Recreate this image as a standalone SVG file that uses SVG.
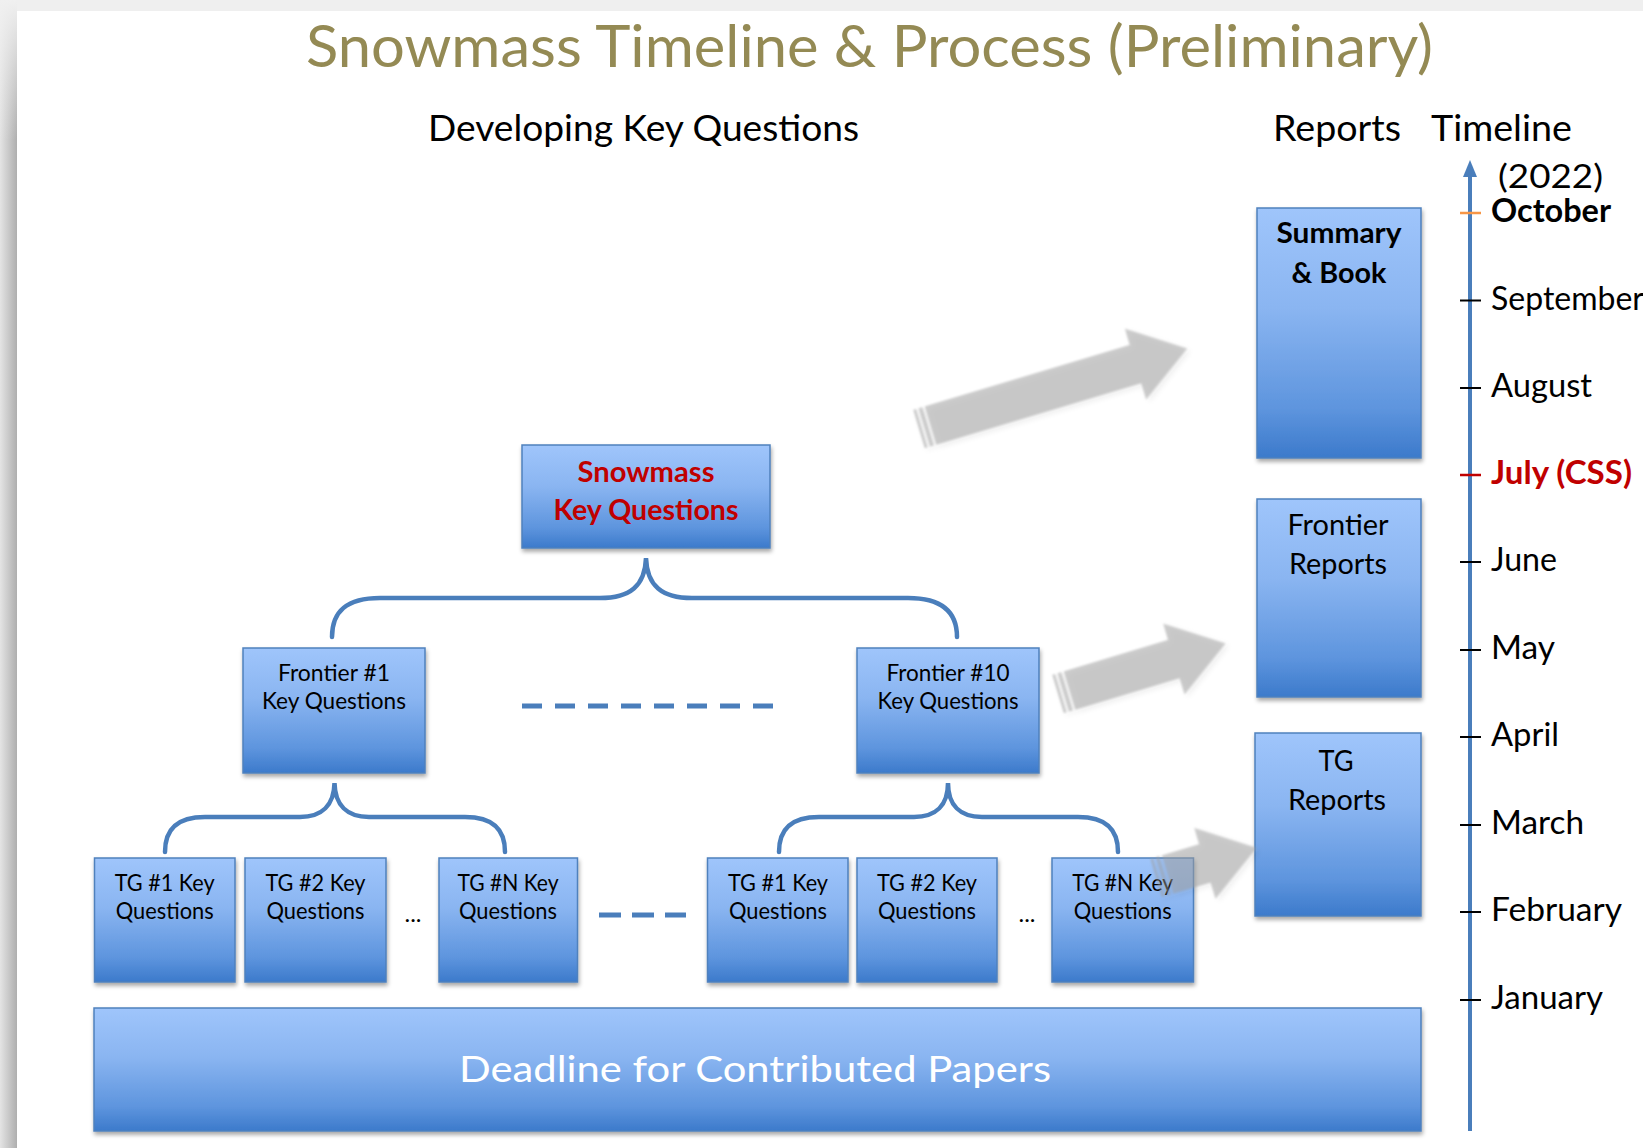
<svg xmlns="http://www.w3.org/2000/svg" width="1643" height="1148" viewBox="0 0 1643 1148">
<defs>
<style>
text{font-family:Lato,"Open Sans","Liberation Sans",sans-serif;}
.box{fill:url(#boxg);stroke:#4f81bd;stroke-width:1.5;filter:url(#sh);}
.bt{fill:#000;font-size:22.5px;text-anchor:middle;}
.rt{fill:#000;font-size:28px;text-anchor:middle;}
.mon{fill:#000;font-size:32px;}
.brace{fill:none;stroke:#4a7ebb;stroke-width:4.5;stroke-linecap:round;}
.dash{fill:none;stroke:#4a7ebb;stroke-width:5;}
.tick{stroke:#000;stroke-width:2;}
.barr{fill:#a0a0a0;fill-opacity:0.52;filter:url(#ash);}
</style>
<linearGradient id="boxg" x1="0" y1="0" x2="0" y2="1">
<stop offset="0" stop-color="#9fc5fb"/>
<stop offset="0.4" stop-color="#8ab5f1"/>
<stop offset="0.8" stop-color="#5e95de"/>
<stop offset="1" stop-color="#3c7acb"/>
</linearGradient>
<linearGradient id="leftsh" x1="0" y1="0" x2="1" y2="0">
<stop offset="0" stop-color="#e4e4e4"/>
<stop offset="1" stop-color="#aeaeae"/>
</linearGradient>
<linearGradient id="topfade" x1="0" y1="0" x2="0" y2="1">
<stop offset="0" stop-color="#f0f0f0" stop-opacity="1"/>
<stop offset="1" stop-color="#f0f0f0" stop-opacity="0"/>
</linearGradient>
<filter id="sh" x="-10%" y="-10%" width="130%" height="130%">
<feDropShadow dx="1" dy="3" stdDeviation="2" flood-color="#000" flood-opacity="0.35"/>
</filter>
<filter id="ash" x="-20%" y="-40%" width="150%" height="190%">
<feGaussianBlur in="SourceAlpha" stdDeviation="3" result="b"/>
<feOffset in="b" dx="2" dy="3" result="o"/>
<feComponentTransfer in="o" result="s"><feFuncA type="linear" slope="0.15"/></feComponentTransfer>
<feGaussianBlur in="SourceGraphic" stdDeviation="0.8" result="g"/>
<feMerge><feMergeNode in="s"/><feMergeNode in="g"/></feMerge>
</filter>
</defs>

<!-- page background -->
<rect x="0" y="0" width="1643" height="1148" fill="#efefef"/>
<rect x="0" y="0" width="17" height="1148" fill="url(#leftsh)"/>
<rect x="0" y="0" width="17" height="140" fill="url(#topfade)"/>
<rect x="17" y="11" width="1626" height="1137" fill="#ffffff"/>

<!-- headers -->
<g id="headers">
<text x="869.5" y="67" font-size="58" fill="#948a54" text-anchor="middle" textLength="1127" lengthAdjust="spacingAndGlyphs">Snowmass Timeline &amp; Process (Preliminary)</text>
<text x="643.5" y="141" font-size="36" fill="#000" text-anchor="middle" textLength="431" lengthAdjust="spacingAndGlyphs">Developing Key Questions</text>
<text x="1273" y="141" font-size="36" fill="#000" textLength="128" lengthAdjust="spacingAndGlyphs">Reports</text>
<text x="1431" y="141" font-size="36" fill="#000" textLength="141" lengthAdjust="spacingAndGlyphs">Timeline</text>
</g>

<!-- nodes -->
<g id="snowmass-kq">
<rect class="box" x="522" y="445" width="248" height="103"/>
<text class="rt" x="646" y="482" font-weight="bold" style="fill:#c00000" textLength="137" lengthAdjust="spacingAndGlyphs">Snowmass</text>
<text class="rt" x="646" y="520" font-weight="bold" style="fill:#c00000" textLength="185" lengthAdjust="spacingAndGlyphs">Key Questions</text>
</g>

<g id="frontier1">
<rect class="box" x="243" y="648" width="182" height="125"/>
<text class="bt" x="334" y="681" textLength="112" lengthAdjust="spacingAndGlyphs">Frontier #1</text>
<text class="bt" x="334" y="709" textLength="144" lengthAdjust="spacingAndGlyphs">Key Questions</text>
</g>

<g id="frontier10">
<rect class="box" x="857" y="648" width="182" height="125"/>
<text class="bt" x="948" y="681" textLength="123" lengthAdjust="spacingAndGlyphs">Frontier #10</text>
<text class="bt" x="948" y="709" textLength="141" lengthAdjust="spacingAndGlyphs">Key Questions</text>
</g>

<g id="tg1-left">
<rect class="box" x="94.5" y="858" width="140.5" height="124"/>
<text class="bt" x="164.7" y="891" textLength="100" lengthAdjust="spacingAndGlyphs">TG #1 Key</text>
<text class="bt" x="164.7" y="919" textLength="98" lengthAdjust="spacingAndGlyphs">Questions</text>
</g>
<g id="tg2-left">
<rect class="box" x="245" y="858" width="141" height="124"/>
<text class="bt" x="315.5" y="891" textLength="100" lengthAdjust="spacingAndGlyphs">TG #2 Key</text>
<text class="bt" x="315.5" y="919" textLength="98" lengthAdjust="spacingAndGlyphs">Questions</text>
</g>
<g id="dots-left">
<text class="bt" x="413" y="922" textLength="17" lengthAdjust="spacingAndGlyphs">...</text>
</g>
<g id="tgN-left">
<rect class="box" x="439" y="858" width="138.5" height="124"/>
<text class="bt" x="508" y="891" textLength="101" lengthAdjust="spacingAndGlyphs">TG #N Key</text>
<text class="bt" x="508" y="919" textLength="98" lengthAdjust="spacingAndGlyphs">Questions</text>
</g>

<g id="tg1-right">
<rect class="box" x="707.5" y="858" width="140.5" height="124"/>
<text class="bt" x="778" y="891" textLength="100" lengthAdjust="spacingAndGlyphs">TG #1 Key</text>
<text class="bt" x="778" y="919" textLength="98" lengthAdjust="spacingAndGlyphs">Questions</text>
</g>
<g id="tg2-right">
<rect class="box" x="857" y="858" width="140" height="124"/>
<text class="bt" x="927" y="891" textLength="100" lengthAdjust="spacingAndGlyphs">TG #2 Key</text>
<text class="bt" x="927" y="919" textLength="98" lengthAdjust="spacingAndGlyphs">Questions</text>
</g>
<g id="dots-right">
<text class="bt" x="1027" y="922" textLength="17" lengthAdjust="spacingAndGlyphs">...</text>
</g>
<g id="tgN-right">
<rect class="box" x="1052" y="858" width="141.5" height="124"/>
<text class="bt" x="1122.7" y="891" textLength="101" lengthAdjust="spacingAndGlyphs">TG #N Key</text>
<text class="bt" x="1122.7" y="919" textLength="98" lengthAdjust="spacingAndGlyphs">Questions</text>
</g>

<g id="summary-book">
<rect class="box" x="1257" y="208" width="164" height="250"/>
<text class="rt" x="1339" y="243" font-weight="bold" textLength="125" lengthAdjust="spacingAndGlyphs">Summary</text>
<text class="rt" x="1339" y="283" font-weight="bold" textLength="95" lengthAdjust="spacingAndGlyphs">&amp; Book</text>
</g>

<g id="frontier-reports">
<rect class="box" x="1257" y="499" width="164" height="198"/>
<text class="rt" x="1338" y="535" textLength="101" lengthAdjust="spacingAndGlyphs">Frontier</text>
<text class="rt" x="1338" y="574" textLength="98" lengthAdjust="spacingAndGlyphs">Reports</text>
</g>

<g id="tg-reports">
<rect class="box" x="1255" y="733" width="166" height="183"/>
<text class="rt" x="1336" y="771" textLength="35" lengthAdjust="spacingAndGlyphs">TG</text>
<text class="rt" x="1337" y="810" textLength="98" lengthAdjust="spacingAndGlyphs">Reports</text>
</g>

<g id="deadline">
<rect class="box" x="94" y="1008" width="1327" height="123"/>
<text x="755" y="1082" font-size="37" fill="#ffffff" text-anchor="middle" textLength="592" lengthAdjust="spacingAndGlyphs">Deadline for Contributed Papers</text>
</g>

<g id="timeline">
<line x1="1470" y1="174" x2="1470" y2="1131" stroke="#4a7ebb" stroke-width="4"/>
<polygon points="1470,160 1463,177 1477,177" fill="#4a7ebb"/>
<line x1="1460" y1="213" x2="1481" y2="213" stroke="#f79646" stroke-width="2.5"/>
<line class="tick" x1="1460" y1="300.5" x2="1481" y2="300.5"/>
<line class="tick" x1="1460" y1="388" x2="1481" y2="388"/>
<line x1="1460" y1="475" x2="1481" y2="475" stroke="#c00000" stroke-width="2.5"/>
<line class="tick" x1="1460" y1="562" x2="1481" y2="562"/>
<line class="tick" x1="1460" y1="650" x2="1481" y2="650"/>
<line class="tick" x1="1460" y1="737" x2="1481" y2="737"/>
<line class="tick" x1="1460" y1="825" x2="1481" y2="825"/>
<line class="tick" x1="1460" y1="912" x2="1481" y2="912"/>
<line class="tick" x1="1460" y1="1000" x2="1481" y2="1000"/>
<text class="mon" x="1498" y="188" font-size="31" textLength="105" lengthAdjust="spacingAndGlyphs">(2022)</text>
<text class="mon" x="1491" y="222" font-weight="bold" textLength="120" lengthAdjust="spacingAndGlyphs">October</text>
<text class="mon" x="1491" y="310">September</text>
<text class="mon" x="1491" y="397" textLength="101" lengthAdjust="spacingAndGlyphs">August</text>
<text class="mon" x="1491" y="484" font-weight="bold" style="fill:#c00000" textLength="141" lengthAdjust="spacingAndGlyphs">July (CSS)</text>
<text class="mon" x="1491" y="571" textLength="66" lengthAdjust="spacingAndGlyphs">June</text>
<text class="mon" x="1491" y="659" textLength="64" lengthAdjust="spacingAndGlyphs">May</text>
<text class="mon" x="1491" y="746" textLength="68" lengthAdjust="spacingAndGlyphs">April</text>
<text class="mon" x="1491" y="834" textLength="93" lengthAdjust="spacingAndGlyphs">March</text>
<text class="mon" x="1491" y="921" textLength="131" lengthAdjust="spacingAndGlyphs">February</text>
<text class="mon" x="1491" y="1009" textLength="112" lengthAdjust="spacingAndGlyphs">January</text>
</g>

<!-- connectors -->
<g id="connectors">
<path class="brace" d="M332,637 C332,612 346,598 380,598 L600,598 C630,598 645,586 646,558 C647,586 662,598 692,598 L908,598 C942,598 957,612 957,637"/>
<path class="brace" d="M165,852 C165,830 176,817 205,817 L300,817 C322,817 334,805 334.5,783 C335,805 347,817 369,817 L465,817 C494,817 505,830 505,852"/>
<path class="brace" d="M779,852 C779,830 790,817 819,817 L914,817 C936,817 948,805 948,783 C948,805 960,817 982,817 L1078,817 C1107,817 1118,830 1118,852"/>
<line class="dash" x1="522" y1="706" x2="775" y2="706" stroke-dasharray="20 13"/>
<line class="dash" x1="599" y1="915" x2="686" y2="915" stroke-dasharray="22 11"/>
<g class="barr" transform="translate(919,429) rotate(-16.7)">
<rect x="0" y="-20" width="3" height="40"/>
<rect x="5.5" y="-20" width="4" height="40"/>
<path d="M12,-20 H226 V-37 L280,0 L226,37 V20 H12 Z"/>
</g>
<g class="barr" transform="translate(1058,694) rotate(-16.8)">
<rect x="0" y="-20" width="3" height="40"/>
<rect x="5.5" y="-20" width="4" height="40"/>
<path d="M12,-20 H121 V-37 L175,0 L121,37 V20 H12 Z"/>
</g>
<g class="barr" transform="translate(1156,878) rotate(-16.7)">
<rect x="0" y="-20" width="3" height="40"/>
<rect x="5.5" y="-20" width="4" height="40"/>
<path d="M12,-20 H51 V-37 L105,0 L51,37 V20 H12 Z"/>
</g>
</g>
</svg>
